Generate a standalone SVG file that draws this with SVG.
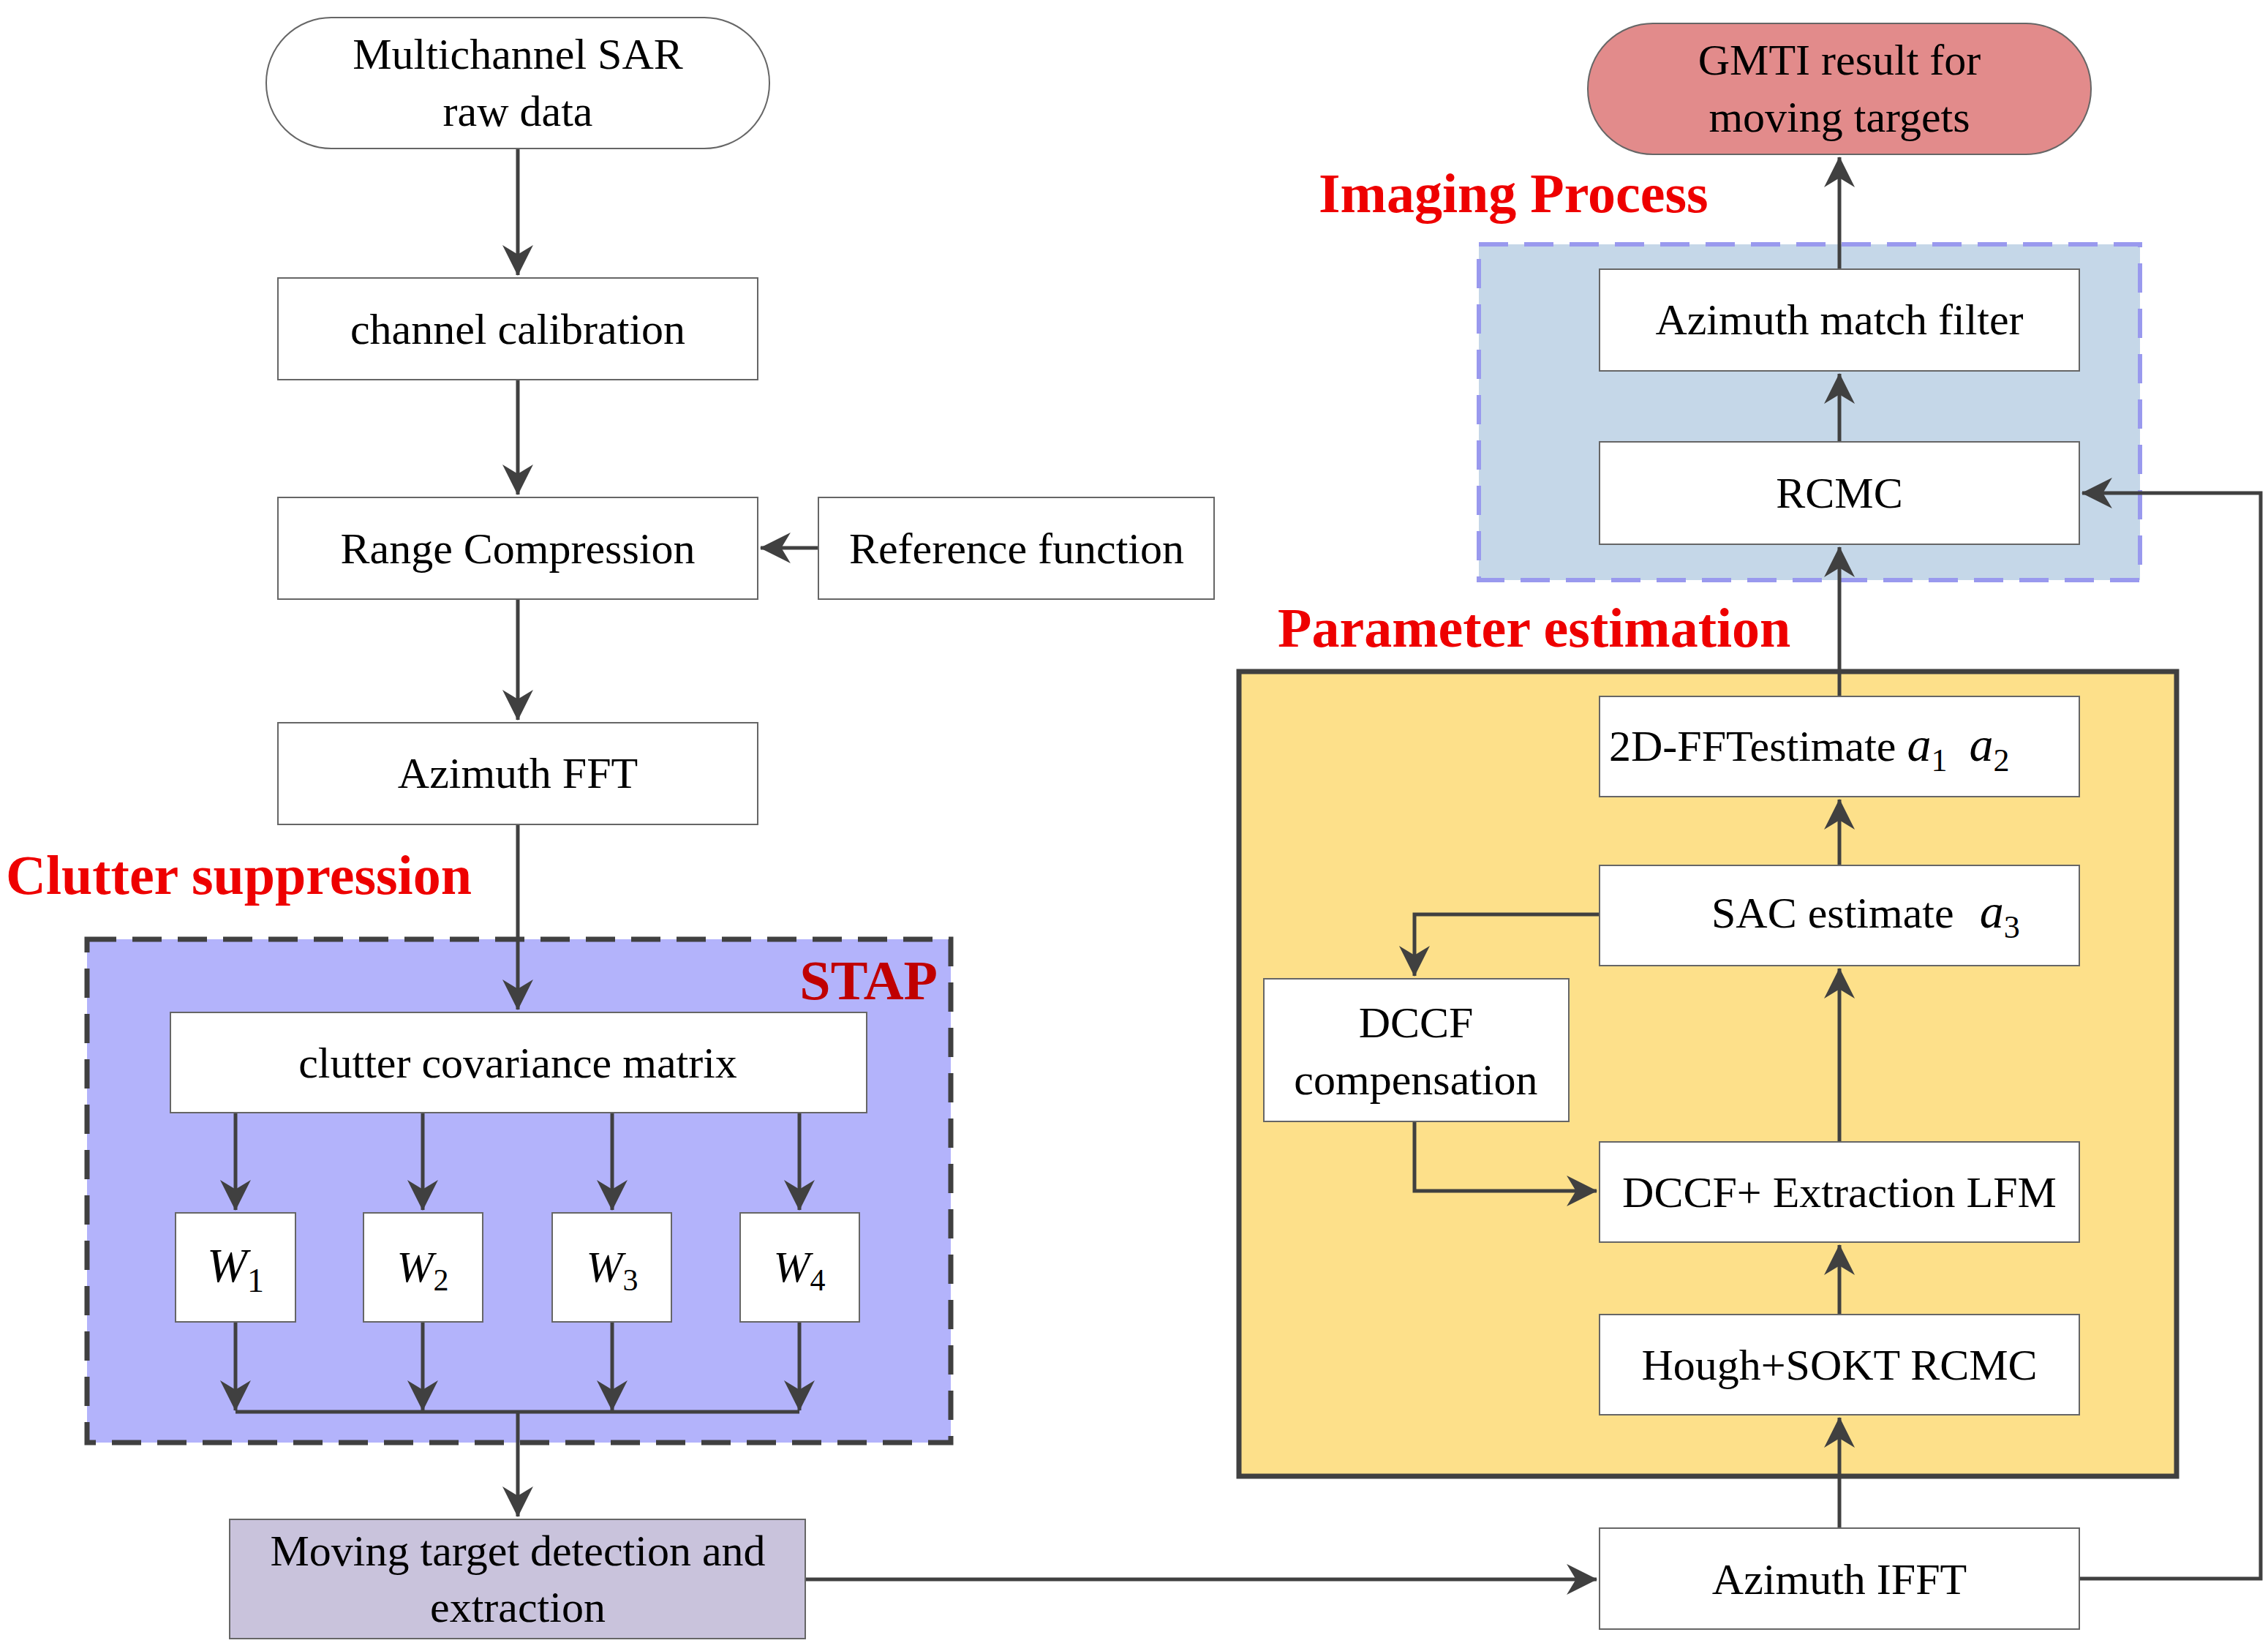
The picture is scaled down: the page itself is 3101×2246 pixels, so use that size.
<svg xmlns="http://www.w3.org/2000/svg" width="3101" height="2246" viewBox="0 0 3101 2246">
<defs>
<marker id="ah" markerWidth="10" markerHeight="10" refX="9" refY="5" orient="auto" markerUnits="userSpaceOnUse" viewBox="0 0 10 10" style="overflow:visible">
<path d="M0,0 L10,5 L0,10 L3,5 Z" fill="#404040" transform="scale(4.2) translate(-7.6,-3.8)"/>
</marker>
<style>
.b{fill:#fff;stroke:#666;stroke-width:2}
.t{font-family:"Liberation Serif",serif;font-size:60px;fill:#000;text-anchor:middle}
.i{font-style:italic}
.r{font-family:"Liberation Serif",serif;font-weight:bold;font-size:76px;fill:#ee0000}
.c{fill:none;stroke:#404040;stroke-width:5}
</style>
</defs>
<rect width="3101" height="2246" fill="#fff"/>
<g id="groups">
<rect x="119" y="1284" width="1181" height="688" fill="#b3b3fb" stroke="#404040" stroke-width="7" stroke-dasharray="40,22"/>
<text x="1282" y="1366" class="r" style="fill:#c00000;text-anchor:end">STAP</text>
<text x="8" y="1222" class="r">Clutter suppression</text>
<rect x="2022" y="334" width="904" height="459" fill="#c5d7e8" stroke="#9999ee" stroke-width="6" stroke-dasharray="40,22"/>
<text x="1803" y="290" class="r">Imaging Process</text>
<rect x="1694" y="918" width="1282" height="1100" fill="#fde08a" stroke="#404040" stroke-width="7"/>
<text x="1747" y="884" class="r">Parameter estimation</text>
</g>
<g id="connectors">
<path class="c" d="M708,203V376" marker-end="url(#ah)"/>
<path class="c" d="M708,519V676" marker-end="url(#ah)"/>
<path class="c" d="M1119,749H1040" marker-end="url(#ah)"/>
<path class="c" d="M708,819V984" marker-end="url(#ah)"/>
<path class="c" d="M708,1127V1380" marker-end="url(#ah)"/>
<path class="c" d="M322,1521V1654" marker-end="url(#ah)"/>
<path class="c" d="M578,1521V1654" marker-end="url(#ah)"/>
<path class="c" d="M837,1521V1654" marker-end="url(#ah)"/>
<path class="c" d="M1093,1521V1654" marker-end="url(#ah)"/>
<path class="c" d="M322,1807V1928" marker-end="url(#ah)"/>
<path class="c" d="M578,1807V1928" marker-end="url(#ah)"/>
<path class="c" d="M837,1807V1928" marker-end="url(#ah)"/>
<path class="c" d="M1093,1807V1928" marker-end="url(#ah)"/>
<path class="c" d="M322,1930H1093"/>
<path class="c" d="M708,1930V2073" marker-end="url(#ah)"/>
<path class="c" d="M1101,2159H2183" marker-end="url(#ah)"/>
<path class="c" d="M2515,2089V1938" marker-end="url(#ah)"/>
<path class="c" d="M2515,1797V1702" marker-end="url(#ah)"/>
<path class="c" d="M2515,1561V1324" marker-end="url(#ah)"/>
<path class="c" d="M2515,1183V1093" marker-end="url(#ah)"/>
<path class="c" d="M2515,952V748" marker-end="url(#ah)"/>
<path class="c" d="M2515,604V511" marker-end="url(#ah)"/>
<path class="c" d="M2515,368V215" marker-end="url(#ah)"/>
<path class="c" d="M2187,1250H1934V1334" marker-end="url(#ah)"/>
<path class="c" d="M1934,1533V1628H2183" marker-end="url(#ah)"/>
<path class="c" d="M2843,2158H3091V674H2847" marker-end="url(#ah)"/>
</g>
<g id="n_start"><rect x="364" y="24" width="688" height="179" rx="89" class="b"/><text class="t" x="708" y="94">Multichannel SAR</text><text class="t" x="708" y="172">raw data</text></g>
<g id="n_cal"><rect x="380" y="380" width="656" height="139" class="b"/><text class="t" x="708" y="470">channel calibration</text></g>
<g id="n_rc"><rect x="380" y="680" width="656" height="139" class="b"/><text class="t" x="708" y="770">Range Compression</text></g>
<g id="n_ref"><rect x="1119" y="680" width="541" height="139" class="b"/><text class="t" x="1390" y="770">Reference function</text></g>
<g id="n_afft"><rect x="380" y="988" width="656" height="139" class="b"/><text class="t" x="708" y="1077">Azimuth FFT</text></g>
<g id="n_ccm"><rect x="233" y="1384" width="952" height="137" class="b"/><text class="t" x="708" y="1473">clutter covariance matrix</text></g>
<g id="n_w1"><rect x="240" y="1658" width="164" height="149" class="b"/><text class="t i" x="322" y="1752" style="font-size:66px">W<tspan class="t" style="font-style:normal;font-size:46px" dy="14">1</tspan></text></g>
<g id="n_w2"><rect x="497" y="1658" width="163" height="149" class="b"/><text class="t i" x="578" y="1752">W<tspan style="font-style:normal;font-size:42px" dy="12">2</tspan></text></g>
<g id="n_w3"><rect x="755" y="1658" width="163" height="149" class="b"/><text class="t i" x="837" y="1752">W<tspan style="font-style:normal;font-size:42px" dy="12">3</tspan></text></g>
<g id="n_w4"><rect x="1012" y="1658" width="163" height="149" class="b"/><text class="t i" x="1093" y="1752">W<tspan style="font-style:normal;font-size:42px" dy="12">4</tspan></text></g>
<g id="n_mtd"><rect x="314" y="2077" width="787" height="163" fill="#c9c3dc" stroke="#666" stroke-width="2"/><text class="t" x="708" y="2140">Moving target detection and</text><text class="t" x="708" y="2217">extraction</text></g>
<g id="n_gmti"><rect x="2171" y="32" width="688" height="179" rx="89" fill="#e28b8b" stroke="#666" stroke-width="2"/><text class="t" x="2515" y="102">GMTI result for</text><text class="t" x="2515" y="180">moving targets</text></g>
<g id="n_amf"><rect x="2187" y="368" width="656" height="139" class="b"/><text class="t" x="2515" y="457">Azimuth match filter</text></g>
<g id="n_rcmc"><rect x="2187" y="604" width="656" height="140" class="b"/><text class="t" x="2515" y="694">RCMC</text></g>
<g id="n_2dfft"><rect x="2187" y="952" width="656" height="137" class="b"/><text class="t" x="2200" y="1040" style="text-anchor:start">2D-FFTestimate <tspan class="i" style="font-size:66px">a</tspan><tspan style="font-size:44px" dy="14">1</tspan><tspan class="i" style="font-size:66px" dy="-14" dx="30">a</tspan><tspan style="font-size:44px" dy="14">2</tspan></text></g>
<g id="n_sac"><rect x="2187" y="1183" width="656" height="137" class="b"/><text class="t" x="2340" y="1268" style="text-anchor:start">SAC estimate <tspan class="i" style="font-size:66px" dx="20">a</tspan><tspan style="font-size:44px" dy="14">3</tspan></text></g>
<g id="n_dcomp"><rect x="1728" y="1338" width="417" height="195" class="b"/><text class="t" x="1936" y="1418">DCCF</text><text class="t" x="1936" y="1496">compensation</text></g>
<g id="n_dext"><rect x="2187" y="1561" width="656" height="137" class="b"/><text class="t" x="2515" y="1650">DCCF+ Extraction LFM</text></g>
<g id="n_hough"><rect x="2187" y="1797" width="656" height="137" class="b"/><text class="t" x="2515" y="1886">Hough+SOKT RCMC</text></g>
<g id="n_ifft"><rect x="2187" y="2089" width="656" height="138" class="b"/><text class="t" x="2515" y="2179">Azimuth IFFT</text></g>
</svg>
